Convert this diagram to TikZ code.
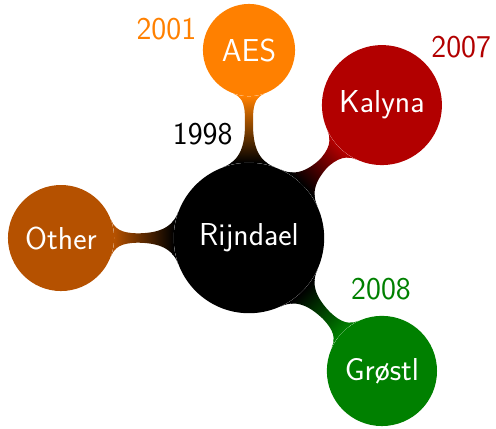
\documentclass[tikz,border=0pt]{standalone}
\usepackage{fontspec}
\usetikzlibrary{mindmap,backgrounds}
\definecolor{aescolor}{RGB}{255,128,0}
\definecolor{kalynacolor}{RGB}{178,0,0}
\definecolor{groestlcolor}{RGB}{0,128,0}
\definecolor{othercolor}{RGB}{181,81,0}
\begin{document}
\begin{tikzpicture}[
  bigfont/.style={font=\sffamily\fontsize{24}{29}\selectfont},
  bubble/.style={circle, fill=#1, text=white, inner sep=0pt, align=center, bigfont},
  year/.style={text=#1, inner sep=0pt, bigfont},
]
\useasboundingbox (-6.622,-5.053) rectangle (6.569,6.330);

% concepts
\node[bubble=black, minimum size=4cm] (root) at (0,0) {Rijndael};
\node[bubble=aescolor, minimum size=2.45cm] (aes) at (90:5) {AES};
\node[bubble=kalynacolor, minimum size=3.19cm] (kalyna) at (45:5) {Kalyna};
\node[bubble=othercolor, minimum size=2.82cm] (other) at (180:5) {Other};
\node[bubble=groestlcolor, minimum size=2.93cm] (groestl) at (-45:5) {Grøstl};

% connection bars
\begin{pgfonlayer}{background}
\path (root) to[circle connection bar switch color=from (black) to (aescolor)] (aes);
\path (root) to[circle connection bar switch color=from (black) to (kalynacolor)] (kalyna);
\path (root) to[circle connection bar switch color=from (black) to (othercolor)] (other);
\path (root) to[circle connection bar switch color=from (black) to (groestlcolor)] (groestl);
\end{pgfonlayer}

% years
\node[year=black] (y1998) at (-1.231,2.753) {1998};
\node[year=aescolor] (y2001) at (-2.197,5.567) {2001};
\node[year=kalynacolor] (y2007) at (5.644,5.080) {2007};
\node[year=groestlcolor] (y2008) at (3.511,-1.356) {2008};
\end{tikzpicture}
\end{document}
